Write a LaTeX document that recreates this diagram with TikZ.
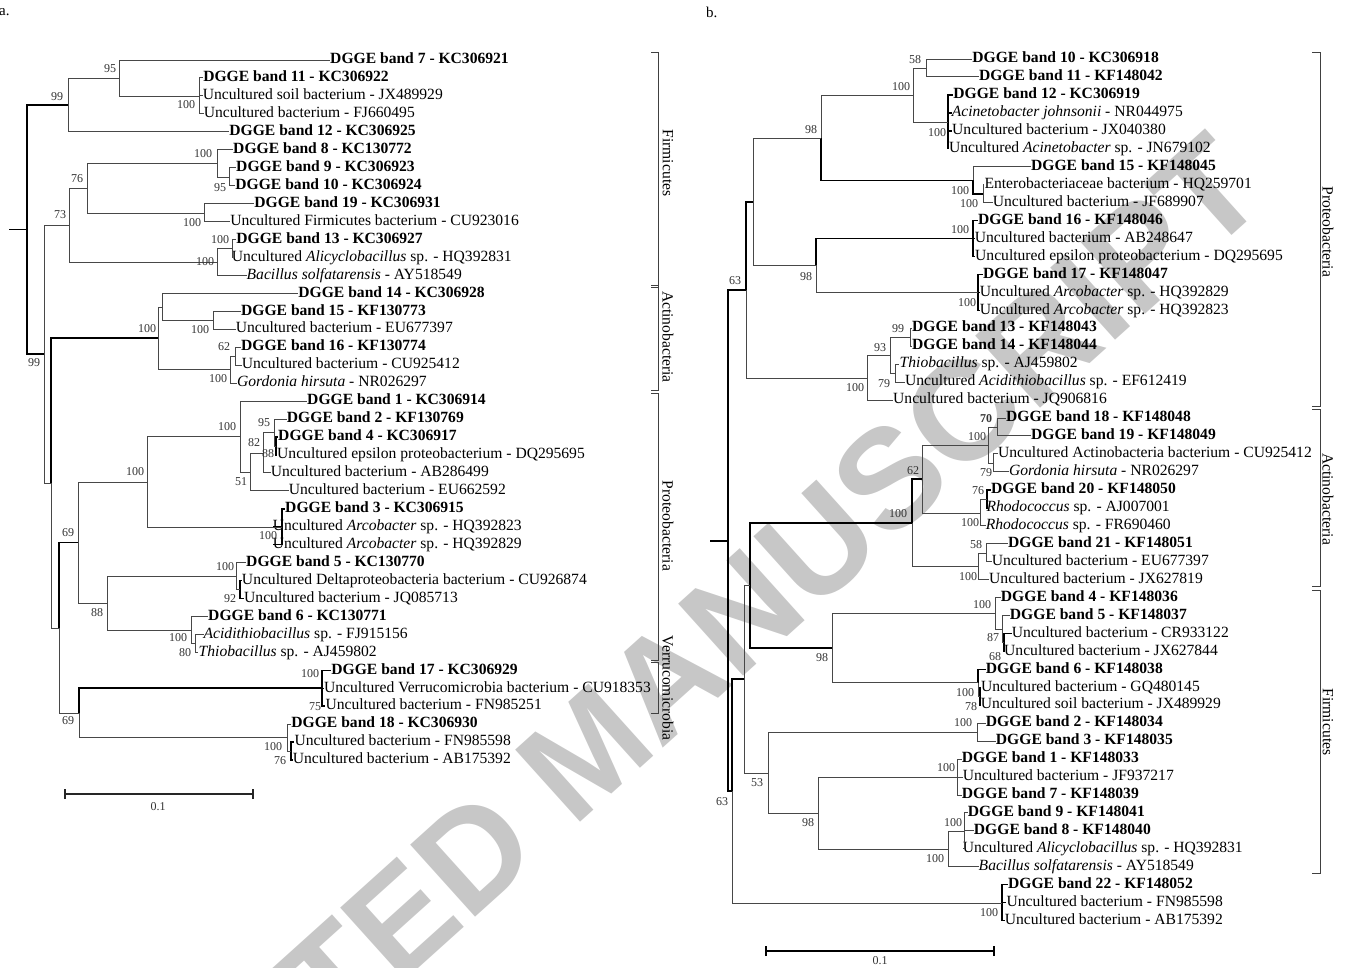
\documentclass[tikz,border=0pt]{standalone}
\usepackage{fontspec}
\setmainfont{Liberation Serif}
\newfontfamily\wmfont{Liberation Sans}
\pgfmathdeclarefunction{la}{1}{\pgfmathparse{60+17.95*(#1-1)}}
\pgfmathdeclarefunction{ra}{1}{\pgfmathparse{59+17.95*(#1-1)}}
\begin{document}
\begin{tikzpicture}[x=1pt,y=-1pt,
  br/.style={draw=black!72, line width=0.9pt},
  tk/.style={draw=black, line width=1.5pt},
  lf/.style={inner sep=0pt, anchor=east, text height=11pt, text depth=3.5pt, font=\fontsize{15.6}{18}\selectfont},
  bs/.style={inner sep=0pt, text=black!80, font=\fontsize{12}{14}\selectfont},
  grp/.style={inner sep=0pt, rotate=-90, font=\fontsize{15.6}{18}\selectfont},
  brk/.style={draw=black!75, line width=0.9pt},
  wm/.style={text=black!22, font=\wmfont\bfseries\fontsize{141}{146}\selectfont, inner sep=0pt}
]
\useasboundingbox (0,0) rectangle (1345,968);
% watermark
\begin{scope}
\clip (0,0) rectangle (1345,968);
\node[wm, rotate=42, anchor=base west] (wmk) at (-32,1374) {ACCEPTED MANUSCRIPT};
\end{scope}

\node[inner sep=0pt, anchor=west, font=\fontsize{15}{17}\selectfont] (la) at (-1,12) {a.};
\node[inner sep=0pt, anchor=west, font=\fontsize{15}{17}\selectfont] (lb) at (706,12) {b.};

% ---------------- left tree leaves ----------------
\foreach \i/\xe/\t in {
 1/509/{\textbf{DGGE band 7 - KC306921}},
 2/389/{\textbf{DGGE band 11 - KC306922}},
 3/443/{Uncultured soil bacterium - JX489929},
 4/415/{Uncultured bacterium - FJ660495},
 5/416/{\textbf{DGGE band 12 - KC306925}},
 6/412/{\textbf{DGGE band 8 - KC130772}},
 7/415/{\textbf{DGGE band 9 - KC306923}},
 8/422/{\textbf{DGGE band 10 - KC306924}},
 9/441/{\textbf{DGGE band 19 - KC306931}},
 10/519/{Uncultured Firmicutes bacterium - CU923016},
 11/423/{\textbf{DGGE band 13 - KC306927}},
 12/512/{Uncultured \textit{Alicyclobacillus} sp. - HQ392831},
 13/462/{\textit{Bacillus solfatarensis} - AY518549},
 14/485/{\textbf{DGGE band 14 - KC306928}},
 15/426/{\textbf{DGGE band 15 - KF130773}},
 16/453/{Uncultured bacterium - EU677397},
 17/426/{\textbf{DGGE band 16 - KF130774}},
 18/460/{Uncultured bacterium - CU925412},
 19/427/{\textit{Gordonia hirsuta} - NR026297},
 20/486/{\textbf{DGGE band 1 - KC306914}},
 21/464/{\textbf{DGGE band 2 - KF130769}},
 22/457/{\textbf{DGGE band 4 - KC306917}},
 23/585/{Uncultured epsilon proteobacterium - DQ295695},
 24/489/{Uncultured bacterium - AB286499},
 25/506/{Uncultured bacterium - EU662592},
 26/464/{\textbf{DGGE band 3 - KC306915}},
 27/522/{Uncultured \textit{Arcobacter} sp. - HQ392823},
 28/522/{Uncultured \textit{Arcobacter} sp. - HQ392829},
 29/425/{\textbf{DGGE band 5 - KC130770}},
 30/587/{Uncultured Deltaproteobacteria bacterium - CU926874},
 31/458/{Uncultured bacterium - JQ085713},
 32/387/{\textbf{DGGE band 6 - KC130771}},
 33/408/{\textit{Acidithiobacillus} sp. - FJ915156},
 34/377/{\textit{Thiobacillus} sp. - AJ459802},
 35/518/{\textbf{DGGE band 17 - KC306929}},
 36/651/{Uncultured Verrucomicrobia bacterium - CU918353},
 37/542/{Uncultured bacterium - FN985251},
 38/478/{\textbf{DGGE band 18 - KC306930}},
 39/511/{Uncultured bacterium - FN985598},
 40/511/{Uncultured bacterium - AB175392}}
 {\node[lf] (A\i) at (\xe,{la(\i)}) {\t};}

% left internal nodes
\coordinate (l0) at (9,229.5);
\coordinate (l27) at (27,229.5);
\coordinate (l68) at (68,105);
\coordinate (l119) at (119,78);
\coordinate (l199) at (199,96);
\coordinate (l44) at (44,354);
\coordinate (l69) at (69,225);
\coordinate (l87) at (87,188);
\coordinate (l217) at (217,163.5);
\coordinate (l229) at (229,177);
\coordinate (l204) at (204,213);
\coordinate (l217b) at (217,262);
\coordinate (l232) at (232,248.5);
\coordinate (l51) at (51,483);
\coordinate (l158) at (158,338);
\coordinate (l162) at (162,307);
\coordinate (l213) at (213,320);
\coordinate (l230) at (230,369.5);
\coordinate (l235) at (235,356);
\coordinate (l59) at (59,628);
\coordinate (l78) at (78,542.5);
\coordinate (l147) at (147,482);
\coordinate (l240) at (240,436.5);
\coordinate (l250) at (250,472);
\coordinate (l263) at (263,453);
\coordinate (l274) at (274,432.5);
\coordinate (l276) at (276,446);
\coordinate (l282) at (282,527);
\coordinate (l107) at (107,603);
\coordinate (l236) at (236,576);
\coordinate (l240b) at (240,589.5);
\coordinate (l191) at (191,630);
\coordinate (l195) at (195,643.4);
\coordinate (l79) at (79,713);
\coordinate (l322) at (322,688);
\coordinate (l287) at (287,737.5);
\coordinate (l291) at (291,751);

\draw[tk] (l0) -- (l27);
\foreach \p/\c in {l27/l68, l27/l44, l51/l158, l59/l78, l79/l322,
  l322/A35, l322/A36, l322/A37, l282/A26, l282/A27, l282/A28,
  l240b/A30, l240b/A31, l291/A39, l291/A40, l276/A22, l276/A23}
  {\draw[tk] (\p) |- (\c);}
\foreach \p/\c in {l68/l119, l68/A5, l119/A1, l119/l199, l199/A2, l199/A3, l199/A4,
  l44/l69, l44/l51, l69/l87, l69/l217b, l87/l217, l87/l204, l217/A6, l217/l229,
  l229/A7, l229/A8, l204/A9, l204/A10, l217b/l232, l217b/A13, l232/A11, l232/A12,
  l51/l59, l158/l162, l158/l230, l162/A14, l162/l213, l213/A15, l213/A16,
  l230/l235, l230/A19, l235/A17, l235/A18,
  l59/l79, l78/l147, l78/l107, l147/l240, l147/l282, l240/A20, l240/l250,
  l250/l263, l250/A25, l263/l274, l263/A24, l274/A21, l274/l276,
  l107/l236, l107/l191, l236/A29, l236/l240b, l191/A32, l191/l195, l195/A33, l195/A34,
  l79/l287, l287/A38, l287/l291}
  {\draw[br] (\p) |- (\c);}

% left bootstrap values
\foreach \x/\y/\t [count=\k] in {110/69/95, 57/97/99, 186/105/100, 203/154/100, 77/179/76,
  220/188/95, 60/215/73, 192/223/100, 220/240/100, 205/262/100, 147/329/100, 200/330/100,
  34/363/99, 224/347/62, 218/379/100, 227/427/100, 264/423/95, 254/443/82, 268/454/88,
  135/472/100, 241/482/51, 68/533/69, 268/536/100, 225/567/100, 230/599/92, 97/613/88,
  178/638/100, 185/653/80, 310/674/100, 315/707/75, 68/721/69, 273/747/100, 280/761/76}
  {\node[bs] (bl\k) at (\x,\y) {\t};}

% left brackets
\draw[brk] (651,52) -- (658,52) -- (658,287) -- (651,287);
\draw[brk] (651,285) -- (658,285) -- (658,390) -- (651,390);
\draw[brk] (651,393) -- (658,393) -- (658,660) -- (651,660);
\draw[brk] (651,662) -- (658,662) -- (658,713) -- (651,713);
\node[grp] (gA1) at (668,163) {Firmicutes};
\node[grp] (gA2) at (668,337) {Actinobacteria};
\node[grp] (gA3) at (668,526) {Proteobacteria};
\node[grp] (gA4) at (668,688) {Verrucomicrobia};

% left scale bar
\coordinate (sa1) at (65,794); \coordinate (sa2) at (253,794);
\draw[draw=black!85, line width=1.2pt] (sa1) -- (sa2);
\draw[draw=black!85, line width=1.2pt] ([yshift=-5pt]sa1) -- ([yshift=5pt]sa1);
\draw[draw=black!85, line width=1.2pt] ([yshift=-5pt]sa2) -- ([yshift=5pt]sa2);
\node[bs] (sat) at (158,807) {0.1};

% ---------------- right tree leaves ----------------
\foreach \i/\xe/\t in {
 1/1159/{\textbf{DGGE band 10 - KC306918}},
 2/1163/{\textbf{DGGE band 11 - KF148042}},
 3/1140/{\textbf{DGGE band 12 - KC306919}},
 4/1183/{\textit{Acinetobacter johnsonii} - NR044975},
 5/1166/{Uncultured bacterium - JX040380},
 6/1211/{Uncultured \textit{Acinetobacter} sp. - JN679102},
 7/1216/{\textbf{DGGE band 15 - KF148045}},
 8/1252/{Enterobacteriaceae bacterium - HQ259701},
 9/1204/{Uncultured bacterium - JF689907},
 10/1163/{\textbf{DGGE band 16 - KF148046}},
 11/1193/{Uncultured bacterium - AB248647},
 12/1283/{Uncultured epsilon proteobacterium - DQ295695},
 13/1168/{\textbf{DGGE band 17 - KF148047}},
 14/1229/{Uncultured \textit{Arcobacter} sp. - HQ392829},
 15/1229/{Uncultured \textit{Arcobacter} sp. - HQ392823},
 16/1097/{\textbf{DGGE band 13 - KF148043}},
 17/1097/{\textbf{DGGE band 14 - KF148044}},
 18/1078/{\textit{Thiobacillus} sp. - AJ459802},
 19/1187/{Uncultured \textit{Acidithiobacillus} sp. - EF612419},
 20/1107/{Uncultured bacterium - JQ906816},
 21/1191/{\textbf{DGGE band 18 - KF148048}},
 22/1216/{\textbf{DGGE band 19 - KF148049}},
 23/1312/{Uncultured Actinobacteria bacterium - CU925412},
 24/1199/{\textit{Gordonia hirsuta} - NR026297},
 25/1176/{\textbf{DGGE band 20 - KF148050}},
 26/1170/{\textit{Rhodococcus} sp. - AJ007001},
 27/1171/{\textit{Rhodococcus} sp. - FR690460},
 28/1193/{\textbf{DGGE band 21 - KF148051}},
 29/1209/{Uncultured bacterium - EU677397},
 30/1203/{Uncultured bacterium - JX627819},
 31/1178/{\textbf{DGGE band 4 - KF148036}},
 32/1187/{\textbf{DGGE band 5 - KF148037}},
 33/1229/{Uncultured bacterium - CR933122},
 34/1218/{Uncultured bacterium - JX627844},
 35/1163/{\textbf{DGGE band 6 - KF148038}},
 36/1200/{Uncultured bacterium - GQ480145},
 37/1221/{Uncultured soil bacterium - JX489929},
 38/1163/{\textbf{DGGE band 2 - KF148034}},
 39/1173/{\textbf{DGGE band 3 - KF148035}},
 40/1139/{\textbf{DGGE band 1 - KF148033}},
 41/1174/{Uncultured bacterium - JF937217},
 42/1139/{\textbf{DGGE band 7 - KF148039}},
 43/1145/{\textbf{DGGE band 9 - KF148041}},
 44/1151/{\textbf{DGGE band 8 - KF148040}},
 45/1243/{Uncultured \textit{Alicyclobacillus} sp. - HQ392831},
 46/1194/{\textit{Bacillus solfatarensis} - AY518549},
 47/1193/{\textbf{DGGE band 22 - KF148052}},
 48/1223/{Uncultured bacterium - FN985598},
 49/1223/{Uncultured bacterium - AB175392}}
 {\node[lf] (B\i) at (\xe,{ra(\i)}) {\t};}

% right internal nodes
\coordinate (r0) at (710,541);
\coordinate (r728) at (728,541);
\coordinate (r746) at (746,290);
\coordinate (r753) at (753,202);
\coordinate (r821) at (821,138);
\coordinate (r913) at (913,95);
\coordinate (r926) at (926,68);
\coordinate (r948) at (948,122);
\coordinate (r973) at (973,180.5);
\coordinate (r983) at (983,194);
\coordinate (r816) at (816,265);
\coordinate (r973b) at (973,238.5);
\coordinate (r978) at (978,292.35);
\coordinate (r867) at (867,378);
\coordinate (r890) at (890,355);
\coordinate (r910) at (910,337);
\coordinate (r895) at (895,373);
\coordinate (r732) at (732,791);
\coordinate (r744) at (744,679);
\coordinate (r750) at (750,585.5);
\coordinate (r912) at (912,523);
\coordinate (r922) at (922,479);
\coordinate (r988) at (988,445);
\coordinate (r997) at (997,427);
\coordinate (r993) at (993,463);
\coordinate (r980) at (980,513);
\coordinate (r987) at (987,499);
\coordinate (r978b) at (978,566.5);
\coordinate (r986) at (986,553);
\coordinate (r832) at (832,648);
\coordinate (r995) at (995,613);
\coordinate (r1002) at (1002,629);
\coordinate (r1004) at (1004,642);
\coordinate (r978c) at (978,682.5);
\coordinate (r980c) at (980,696);
\coordinate (r768) at (768,773);
\coordinate (r977) at (977,732);
\coordinate (r818) at (818,813);
\coordinate (r957) at (957,777);
\coordinate (r948b) at (948,849);
\coordinate (r964) at (964,831);
\coordinate (r1002b) at (1002,903);

\draw[tk] (r0) -- (r728);
\foreach \p/\c in {r728/r746, r728/r732, r746/r753, r821/r973, r973/r983, r816/r973b,
  r973b/B10, r973b/B11, r973b/B12, r978/B13, r978/B14, r978/B15,
  r750/r912, r750/r832, r912/r922, r732/r744, r987/B25, r987/B26,
  r1004/B33, r1004/B34, r978c/B35, r980c/B36, r980c/B37,
  r1002b/B47, r1002b/B48, r1002b/B49, r948/B3, r948/B4, r948/B5, r948/B6}
  {\draw[tk] (\p) |- (\c);}
\foreach \p/\c in {r746/r867, r753/r821, r753/r816, r821/r913, r913/r926, r913/r948,
  r926/B1, r926/B2, r973/B7, r983/B8, r983/B9, r816/r978,
  r867/r890, r867/B20, r890/r910, r890/r895, r910/B16, r910/B17, r895/B18, r895/B19,
  r732/r1002b, r744/r750, r744/r768, r912/r978b, r922/r988, r922/r980,
  r988/r997, r988/r993, r997/B21, r997/B22, r993/B23, r993/B24,
  r980/r987, r980/B27, r978b/r986, r978b/B30, r986/B28, r986/B29,
  r832/r995, r832/r978c, r995/B31, r995/r1002, r1002/B32, r1002/r1004,
  r978c/r980c, r768/r977, r768/r818, r977/B38, r977/B39,
  r818/r957, r818/r948b, r957/B40, r957/B41, r957/B42,
  r948b/r964, r948b/B46, r964/B43, r964/B44, r964/B45}
  {\draw[br] (\p) |- (\c);}

% right bootstrap values
\foreach \x/\y/\t [count=\k] in {915/60/58, 901/87/100, 811/130/98, 937/133/100, 960/191/100,
  969/204/100, 960/230/100, 806/277/98, 735/281/63, 967/303/100, 898/329/99, 880/348/93,
  884/384/79, 855/388/100, 986/419/\textbf{70}, 977/437/100, 913/471/62, 986/473/79,
  978/491/76, 898/514/100, 970/523/100, 976/545/58, 968/577/100, 982/605/100, 993/638/87,
  822/658/98, 995/657/68, 965/693/100, 971/707/78, 963/723/100, 946/768/100, 757/783/53,
  808/823/98, 953/823/100, 935/859/100, 722/802/63, 989/913/100}
  {\node[bs] (br\k) at (\x,\y) {\t};}

% right brackets
\draw[brk] (1312,52) -- (1320,52) -- (1320,406) -- (1312,406);
\draw[brk] (1312,409) -- (1320,409) -- (1320,586) -- (1312,586);
\draw[brk] (1312,590) -- (1320,590) -- (1320,873) -- (1312,873);
\node[grp] (gB1) at (1328,232) {Proteobacteria};
\node[grp] (gB2) at (1328,499) {Actinobacteria};
\node[grp] (gB3) at (1328,722) {Firmicutes};

% right scale bar
\coordinate (sb1) at (766,951); \coordinate (sb2) at (994,951);
\draw[draw=black, line width=2pt] (sb1) -- (sb2);
\draw[draw=black, line width=1.5pt] ([yshift=-5pt]sb1) -- ([yshift=5pt]sb1);
\draw[draw=black, line width=1.5pt] ([yshift=-5pt]sb2) -- ([yshift=5pt]sb2);
\node[bs] (sbt) at (880,961) {0.1};
\end{tikzpicture}
\end{document}
